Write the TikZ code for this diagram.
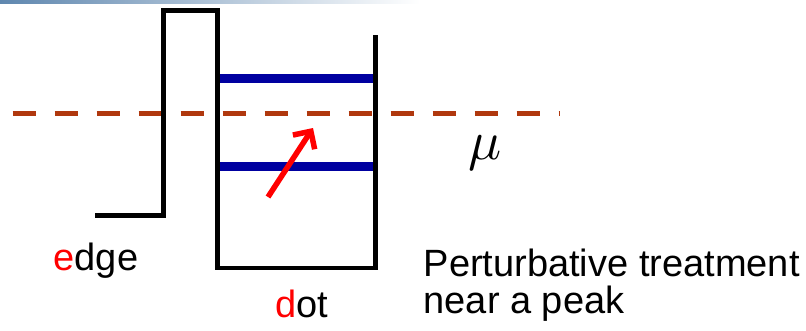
\documentclass[tikz,border=0pt]{standalone}
\usepackage{fontspec}
\setmainfont{Liberation Sans}
\usetikzlibrary{arrows.meta, positioning}

\definecolor{fermi}{RGB}{176,56,14}
\definecolor{levelblue}{RGB}{0,0,160}
\definecolor{barblue}{RGB}{95,135,175}

\begin{document}
\begin{tikzpicture}[x=1pt, y=-1pt,
    wall/.style={draw=black, line width=4.5pt, line join=miter},
    level/.style={draw=levelblue, line width=8.5pt},
    arrow/.style={-{Straight Barb[length=13pt, width=26pt]}, draw=red, line width=5.5pt},
    label/.style={font=\fontsize{38}{37}\selectfont, inner sep=0pt, anchor=base west},
]
  \useasboundingbox (0,0) rectangle (806,330);
  \shade[left color=barblue, right color=white] (0,0) rectangle (420,3);

  % chemical potential
  \draw[draw=fermi, line width=5pt, dash pattern=on 23pt off 19pt] (12.7,113.5) -- (560,113.5);

  % dot levels
  \draw[level] (218,78.5) -- (375.5,78.5);
  \draw[level] (218,166.5) -- (375.5,166.5);

  % edge, barrier and dot
  \draw[wall] (95,215.5) -- (163.5,215.5) -- (163.5,10.5) -- (217.5,10.5)
    -- (217.5,268) -- (375.5,268) -- (375.5,35);

  % perturbation
  \coordinate (kick) at (268,197);
  \coordinate (kickend) at (313,128);
  \draw[arrow] (kick) -- (kickend);

  \node[scale=5.5, inner sep=0pt] (mu) at (485,153.5) {$\mu$};
  \node[label] (edge) at (53.5,270) {\textcolor{red}{e}dge};
  \node[label] (dot) at (275.5,317) {\textcolor{red}{d}ot};
  \node[label, align=left] (pert) at (423.5,313) {Perturbative treatment\\near a peak};
\end{tikzpicture}
\end{document}
